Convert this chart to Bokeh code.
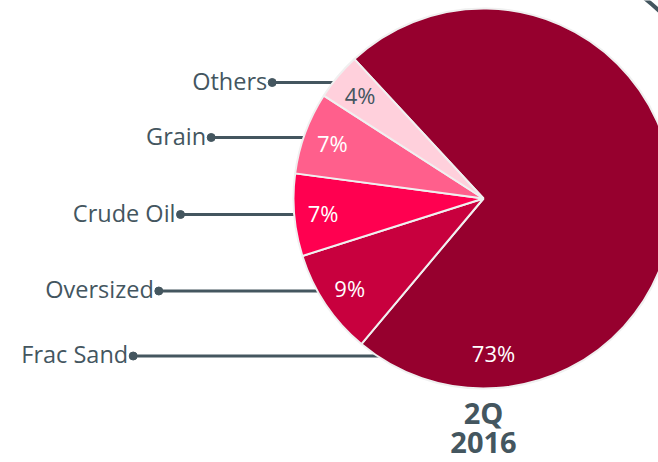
import math
from bokeh.plotting import figure
from bokeh.models import Range1d, ColumnDataSource
from bokeh.core.properties import value
from bokeh.embed import file_html
from bokeh.resources import INLINE

# ---- data ----
categories = ["Frac Sand", "Oversized", "Crude Oil", "Grain", "Others"]
shares = [73, 9, 7, 7, 4]
pct_labels = ["73%", "9%", "7%", "7%", "4%"]
colors = ["#96002E", "#C8003E", "#FF0050", "#FF5F8C", "#FFD0DC"]
pct_text_colors = ["#FFFFFF", "#FFFFFF", "#FFFFFF", "#FFFFFF", "#44565F"]
period_label = ["2Q", "2016"]

# ---- layout constants ----
W, H = 658, 462
CX, CY = 483, 264          # pie centre in data units (x right, y up)
R = 190
START_DEG = 132.8          # where the first slice starts (clockwise)
LABEL_R = 161
FIRST_LABEL_DEG = 273.7    # first (large) slice label pulled to the bottom
FIRST_LABEL_R = 155
label_y = [106.5, 171.5, 248, 325, 380]   # connector heights (data units)
dot_x = [132.7, 158.3, 180, 210.7, 271.7] # connector dot positions
TEXT = "#44565F"
FONT = "Open Sans"

p = figure(width=W, height=H, output_backend="svg", toolbar_location=None,
           x_range=Range1d(0, W), y_range=Range1d(0, H), min_border=0)
p.axis.visible = False
p.grid.visible = False
p.outline_line_color = None
p.background_fill_color = "white"
p.border_fill_color = "white"

# angles, clockwise from START_DEG
total = sum(shares)
starts, ends = [], []
a = math.radians(START_DEG)
for v in shares:
    b = a - 2 * math.pi * v / total
    starts.append(b)
    ends.append(a)
    a = b

# connectors (drawn under the pie)
line_end = [CX - math.sqrt(max(R * R - (y - CY) ** 2, 0)) + 4 for y in label_y]
p.segment(x0=dot_x, y0=label_y, x1=line_end, y1=label_y, line_color=TEXT, line_width=3)
p.scatter(x=dot_x, y=label_y, size=8, color=TEXT)
p.text(x=[x - 5 for x in dot_x], y=[y + 2 for y in label_y], text=categories,
       text_align="right", text_baseline="middle", text_color=TEXT,
       text_font=value(FONT), text_font_size="23.5px")

# decorative arc at top right
p.arc(x=[CX], y=[CY], radius=257, start_angle=math.radians(40), end_angle=math.radians(56),
      line_color=TEXT, line_width=4)

src = ColumnDataSource(dict(start=starts, end=ends, color=colors))
p.wedge(x=CX, y=CY, radius=R, start_angle="start", end_angle="end", fill_color="color",
        line_color="#F0F0F0", line_width=2, source=src)

# percentage labels
lx, ly = [], []
for i, (s, e) in enumerate(zip(starts, ends)):
    m = math.radians(FIRST_LABEL_DEG) if i == 0 else (s + e) / 2
    rr = FIRST_LABEL_R if i == 0 else LABEL_R
    lx.append(CX + rr * math.cos(m))
    ly.append(CY + rr * math.sin(m))
p.text(x=lx, y=ly, text=pct_labels, text_align="center", text_baseline="middle",
       text_color=pct_text_colors, text_font=value(FONT), text_font_size="22px")

# period title
p.text(x=[CX, CX], y=[50, 20], text=period_label, text_align="center",
       text_baseline="middle", text_color=TEXT, text_font=value(FONT),
       text_font_size="29px", text_font_style="bold")

open("out.html", "w").write(file_html(p, INLINE))
